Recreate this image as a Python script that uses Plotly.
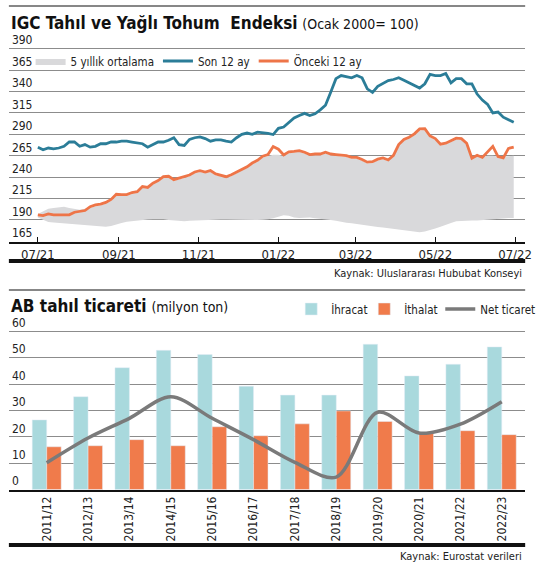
import pandas as pd
import plotly.graph_objects as go

# --- IGC index (Jul 2021 - Jun 2022, one reading every 4 days) ---
dates = pd.date_range("2021-07-01", periods=92, freq="4D")

son_12_ay = [275, 272, 274, 273, 274, 276, 281, 281, 276, 278,
             275, 276, 279, 279, 281, 281, 282, 282, 281, 280,
             279, 275, 278, 281, 281, 283, 286, 278, 277, 284,
             286, 287, 285, 282, 283.5, 283.5, 282, 281, 286, 290,
             291.5, 290, 292.5, 292, 291, 289.7, 297, 298.5, 304, 309,
             312, 314.5, 312, 314, 318.5, 324, 339, 355, 358.6, 357.4,
             356, 358.6, 356, 343, 339, 346, 349, 352.8, 354, 356,
             353, 350, 347.5, 344, 349, 360, 358.6, 358.6, 361, 350,
             355, 355, 349, 349, 337, 330, 325, 315, 316, 310,
             307, 304]

onceki_12_ay = [196, 195, 197, 196, 196, 196, 196, 199, 200, 201,
                205.5, 207.5, 208.5, 210.5, 214, 220, 219.6, 219.6, 222, 223,
                229, 228, 233, 236, 240.6, 241, 237, 239, 240.6, 242.5,
                246, 247.5, 246, 247.6, 243.7, 242.5, 240.5, 242.8, 246, 249.5,
                252, 256.5, 259.6, 264.5, 266.3, 275.7, 272.6, 266, 269.6, 270,
                271, 269, 266.3, 267, 267, 269, 267, 266.3, 266, 265,
                263, 263, 260.5, 257.5, 258, 261, 262.4, 260, 265.5, 278,
                284, 286.6, 290.5, 296.3, 296.5, 288, 285, 278.5, 279.6, 282.8,
                285.5, 285, 279.5, 262, 265.5, 263, 269, 276, 264, 262.4,
                273.5, 275]

ort_ust = [197, 200, 203, 204, 205, 205.5, 204, 203, 202, 203,
           204, 206, 207, 209, 212.5, 218, 218, 218, 220.5, 221.5,
           227.5, 226.5, 231.5, 234.5, 239, 239.5, 235.5, 237.5, 239, 241,
           244.5, 246, 244.5, 246, 242, 241, 239, 241, 244.5, 248,
           250.5, 255, 258, 263, 264.5, 266, 266, 264.5, 268, 268.5,
           269.5, 267.5, 265, 265.5, 265.5, 267.5, 265.5, 265, 264.5, 263.5,
           261.5, 261.5, 259, 256, 256.5, 259.5, 261, 258.5, 264, 276.5,
           282.5, 285, 289, 294.5, 295, 286.5, 283.5, 277, 278, 281,
           284, 283.5, 278, 264, 264, 263.5, 265, 265, 264, 264,
           264.5, 265]

ort_alt = [193, 190, 187.5, 187, 186.5, 186, 185.5, 185, 184.4, 183.5,
           183, 182.5, 181.8, 182, 183, 185, 186.5, 188, 188.8, 189.5,
           190, 190.5, 190.7, 191, 190.8, 190, 189.5, 189, 188.4, 189,
           189.3, 190, 190.5, 190.8, 190.8, 190.6, 190.5, 190.3, 190.2, 189.8,
           189.6, 189.5, 189.8, 190.3, 190.7, 192, 193.5, 195.5, 195, 193,
           192.4, 192.6, 192.8, 192, 191.5, 190.8, 190, 189, 187.5, 186.8,
           186, 185, 184, 183, 182, 181.7, 181.3, 180.5, 179.7, 178.8,
           178, 177.2, 176.5, 175.5, 176.5, 178, 180, 182, 184.5, 186.5,
           188.5, 189, 189.3, 189.4, 189.5, 189.8, 190, 190.5, 191, 191.7,
           192.3, 192.3]

# --- EU grain trade (million tonnes) ---
seasons = ['2011/12', '2012/13', '2013/14', '2014/15', '2015/16', '2016/17',
           '2017/18', '2018/19', '2019/20', '2020/21', '2021/22', '2022/23']
ihracat = [26.4, 35.2, 46.2, 52.8, 51.2, 39.2, 35.8, 35.8, 55.1, 43.1, 47.5, 54.1]
ithalat = [16.2, 16.6, 18.9, 16.6, 23.8, 20.4, 24.9, 29.8, 25.8, 21.4, 22.3, 20.8]
net_ticaret = [10.1, 19.5, 27.0, 35.2, 27.0, 18.9, 10.3, 4.7, 29.3, 21.4, 24.8, 33.3]

W, H = 545, 569
FONT = "Liberation Sans Narrow, DejaVu Sans Condensed, Roboto, sans-serif"
BLUE = '#2b7d98'
ORANGE = '#ee7548'
GREY_FILL = '#d9d9db'
TEAL = '#a9d9dd'
BAR_ORANGE = '#f07b4b'
NET_GREY = '#7a7a7a'
GRID = '#8c8c8c'


def px(x):
    return x / W


def py(y):
    return 1 - y / H


fig = go.Figure()

fig.add_trace(go.Scatter(x=dates, y=ort_alt, mode='lines', line=dict(width=0),
                         showlegend=False, hoverinfo='skip'))
fig.add_trace(go.Scatter(x=dates, y=ort_ust, mode='lines', line=dict(width=0),
                         fill='tonexty', fillcolor=GREY_FILL,
                         name='5 yıllık ortalama', legend='legend'))
fig.add_trace(go.Scatter(x=dates, y=onceki_12_ay, mode='lines',
                         line=dict(color=ORANGE, width=2.8),
                         name='Önceki 12 ay', legend='legend3'))
fig.add_trace(go.Scatter(x=dates, y=son_12_ay, mode='lines',
                         line=dict(color=BLUE, width=2.8),
                         name='Son 12 ay', legend='legend2'))

fig.add_trace(go.Bar(x=seasons, y=ihracat, name='İhracat', marker_color=TEAL,
                     xaxis='x2', yaxis='y2', legend='legend4'))
fig.add_trace(go.Bar(x=seasons, y=ithalat, name='İthalat', marker_color=BAR_ORANGE,
                     xaxis='x2', yaxis='y2', legend='legend5'))
fig.add_trace(go.Scatter(x=seasons, y=net_ticaret, mode='lines', name='Net ticaret',
                         line=dict(color=NET_GREY, width=3.5, shape='spline', smoothing=0.9),
                         xaxis='x2', yaxis='y2', legend='legend6'))

x_dom = [px(9), px(532)]


def leg(x, y):
    return dict(orientation='h', x=px(x), y=py(y), xanchor='left', yanchor='middle',
                font=dict(family=FONT, size=11.5, color='#222'), bgcolor='rgba(0,0,0,0)',
                itemwidth=30)


fig.update_layout(
    width=W, height=H,
    margin=dict(l=0, r=0, t=0, b=0),
    paper_bgcolor='white', plot_bgcolor='white',
    font=dict(family=FONT, color='#222'),
    barmode='group', bargap=0.3, bargroupgap=0,
    xaxis=dict(domain=x_dom, anchor='y', type='date',
               range=['2021-06-08 20:00', '2022-07-08 18:00'],
               dtick='M2', tick0='2021-07-01', tickformat='%m/%y',
               showgrid=False, showline=True, linecolor='#111', linewidth=1.5,
               ticks='inside', ticklen=5, tickcolor='#111',
               tickfont=dict(size=13, family=FONT, color='#222')),
    yaxis=dict(domain=[py(241.7), py(33)], anchor='x', range=[164.6, 408.3],
               tick0=165, dtick=25, showgrid=True, gridcolor=GRID, gridwidth=1,
               zeroline=False, ticks='', ticklabelposition='inside top',
               ticklabelstandoff=0,
               tickfont=dict(size=12, family=FONT, color='#222')),
    xaxis2=dict(domain=x_dom, anchor='y2', type='category',
                range=[-0.914, 11.566], tickangle=-90,
                showgrid=False, showline=True, linecolor='#111', linewidth=1.5,
                ticks='', tickfont=dict(size=12, family=FONT, color='#222')),
    yaxis2=dict(domain=[py(490), py(306.3)], anchor='x2', range=[-0.2, 69.5],
                tick0=0, dtick=10, showgrid=True, gridcolor=GRID, gridwidth=1,
                zeroline=False, ticks='', ticklabelposition='inside top',
                ticklabelstandoff=0,
                tickfont=dict(size=12, family=FONT, color='#222')),
    legend=leg(31, 61), legend2=leg(160, 61), legend3=leg(257, 61),
    legend4=leg(295, 309), legend5=leg(369, 309), legend6=leg(446, 309),
)

# titles and sources
fig.add_annotation(text='<b>IGC Tahıl ve Yağlı Tohum  Endeksi</b> '
                        '<span style="font-size:14px">(Ocak 2000= 100)</span>',
                   xref='paper', yref='paper',
                   x=px(9), y=py(23), xanchor='left', yanchor='middle', showarrow=False,
                   font=dict(family=FONT, size=17, color='#111'))
fig.add_annotation(text='Kaynak: Uluslararası Hububat Konseyi', xref='paper', yref='paper',
                   x=px(531), y=py(273), xanchor='right', yanchor='middle', showarrow=False,
                   font=dict(family=FONT, size=11, color='#222'))
fig.add_annotation(text='<b>AB tahıl ticareti</b> '
                        '<span style="font-size:14px">(milyon ton)</span>',
                   xref='paper', yref='paper',
                   x=px(9), y=py(306), xanchor='left', yanchor='middle', showarrow=False,
                   font=dict(family=FONT, size=17, color='#111'))
fig.add_annotation(text='Kaynak: Eurostat verileri', xref='paper', yref='paper',
                   x=px(531), y=py(556), xanchor='right', yanchor='middle', showarrow=False,
                   font=dict(family=FONT, size=11, color='#222'))

# rules
for y0, y1 in [(5.5, 6.5), (289.5, 290.5)]:
    fig.add_shape(type='rect', xref='paper', yref='paper', x0=px(9), x1=px(532),
                  y0=py(y1), y1=py(y0), fillcolor='#111', line_width=0)
for y0, y1 in [(259, 263), (543, 547)]:
    fig.add_shape(type='rect', xref='paper', yref='paper', x0=px(9), x1=px(532),
                  y0=py(y1), y1=py(y0), fillcolor='#111', line_width=0)

fig.write_html("out.html", post_script="document.body.style.margin='0';",
               config={'displayModeBar': False})
